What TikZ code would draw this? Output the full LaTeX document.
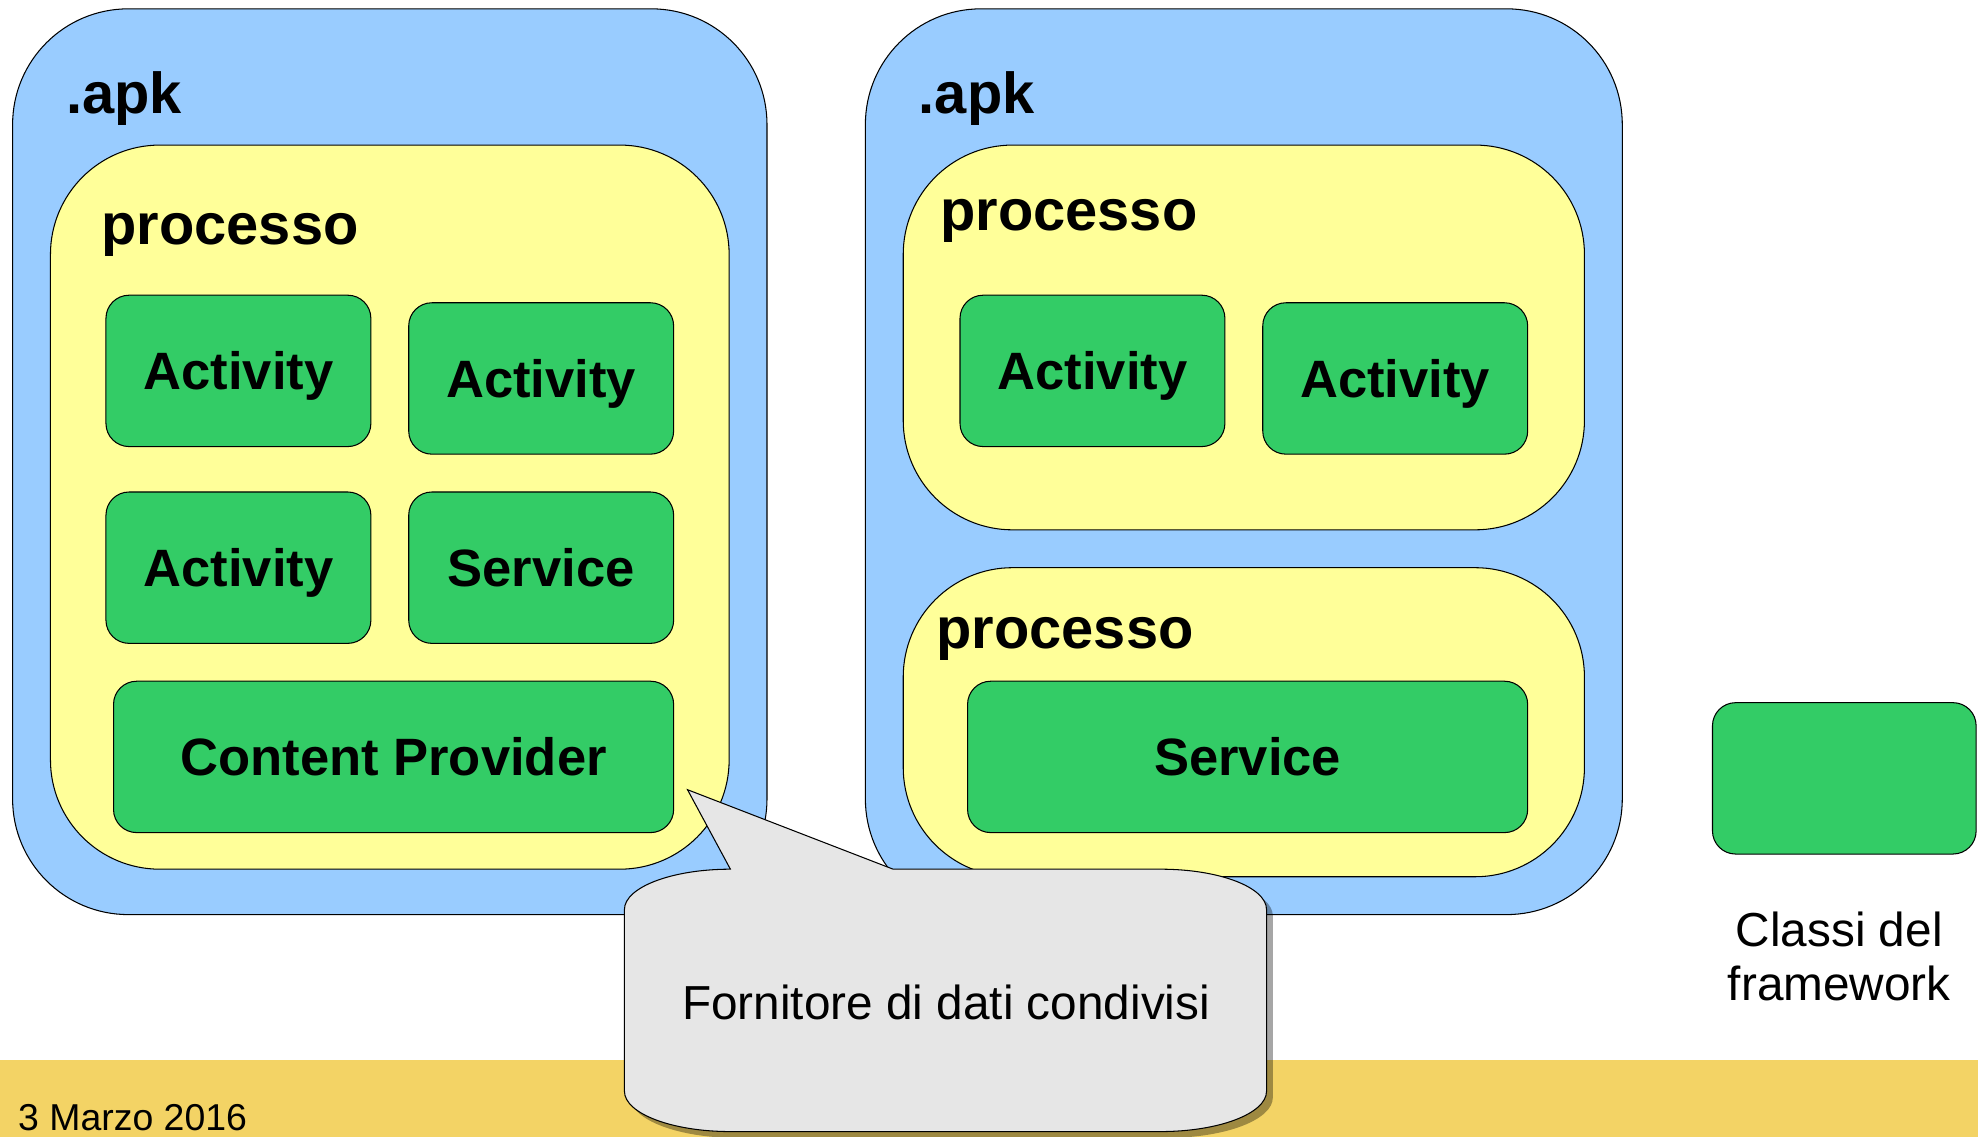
\documentclass[tikz,border=0pt]{standalone}
\usepackage{fontspec}
\setmainfont{Liberation Sans}
\usetikzlibrary{shadows}
\definecolor{apkblue}{HTML}{99CCFF}
\definecolor{procyellow}{HTML}{FFFF99}
\definecolor{compgreen}{HTML}{33CC66}
\definecolor{notegray}{HTML}{E6E6E6}
\definecolor{bargold}{HTML}{F3D365}

\begin{document}
\begin{tikzpicture}[x=0.6pt, y=-0.6pt,
        line width=0.5pt,
        apk/.style = {draw, fill=apkblue, rounded corners=55pt},
        proc/.style = {draw, fill=procyellow, rounded corners=52pt},
        comp/.style = {draw, fill=compgreen, rounded corners=11pt,
            minimum width=126pt, minimum height=72pt,
            text height=18pt, text depth=0pt,
            font=\fontsize{25}{30}\selectfont\bfseries},
        widecomp/.style = {comp, minimum width=266.4pt},
        title/.style = {anchor=base west, inner sep=0pt,
            font=\fontsize{27.5}{33}\selectfont\bfseries},
        plain/.style = {font=\fontsize{22.7}{25.5}\selectfont, align=center},
        note/.style = {draw, fill=notegray,
            drop shadow={shadow xshift=3pt, shadow yshift=-3pt,
                fill=black, opacity=0.35}}]
    \useasboundingbox (0,0) rectangle (1568,901);
    % date bar
    \fill[bargold] (0,840) rectangle (1568,901);
    \node[anchor=base west, inner sep=0pt,
        font=\fontsize{17.8}{21}\selectfont] (date) at (14,896) {3 Marzo 2016};

    % first apk, one process
    \draw[apk] (10,7) rectangle (608,725);
    \node[title] (apkA) at (52,90) {.apk};
    \draw[proc] (40,115) rectangle (578,689);
    \node[title] (procA) at (80,194) {processo};
    \node[comp] (actA) at (189,294) {Activity};
    \node[comp] (actB) at (429,300) {Activity};
    \node[comp] (actC) at (189,450) {Activity};
    \node[comp] (servA) at (429,450) {Service};
    \node[widecomp] (provA) at (312,600) {Content Provider};

    % second apk, two processes
    \draw[apk] (686,7) rectangle (1286,725);
    \node[title] (apkB) at (728,90) {.apk};
    \draw[proc] (716,115) rectangle (1256,420);
    \node[title] (procB) at (745,183) {processo};
    \node[comp] (actD) at (866,294) {Activity};
    \node[comp] (actE) at (1106,300) {Activity};
    \draw[proc] (716,450) rectangle (1256,695);
    \node[title] (procC) at (742,514) {processo};
    \node[widecomp] (servB) at (989,600) {Service};

    % legend
    \node[comp, minimum width=125.4pt] (legend) at (1462,617) {};
    \node[plain] (legendtext) at (1458,758) {Classi del\\framework};

    % callout on the provider
    \path[note] (579,689) -- (545,626) -- (708,689) -- (920,689)
        arc[start angle=90, end angle=0, x radius=50.4pt, y radius=19.2pt]
        -- (1004,865)
        arc[start angle=0, end angle=-90, x radius=50.4pt, y radius=19.2pt]
        -- (579,897)
        arc[start angle=270, end angle=180, x radius=50.4pt, y radius=19.2pt]
        -- (495,721)
        arc[start angle=180, end angle=90, x radius=50.4pt, y radius=19.2pt]
        -- cycle;
    \node[plain] (notetext) at (750,795) {Fornitore di dati condivisi};
\end{tikzpicture}
\end{document}
